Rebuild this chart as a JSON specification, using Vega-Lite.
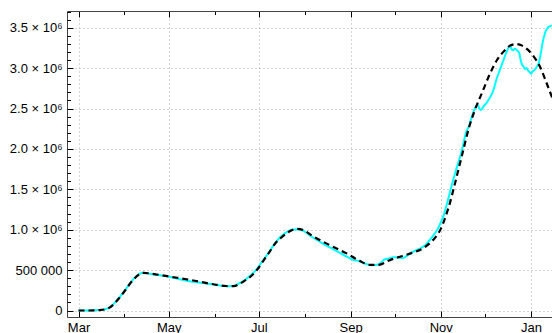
{
  "$schema": "https://vega.github.io/schema/vega-lite/v6.json",
  "width": 485,
  "height": 306,
  "autosize": {"type": "none"},
  "padding": {"left": 67, "top": 11, "right": 0, "bottom": 16},
  "background": "white",
  "config": {
    "view": {"stroke": null},
    "axis": {
      "labelFont": "Liberation Sans",
      "labelFontSize": 13,
      "labelColor": "#000000",
      "domainColor": "#444444",
      "domainWidth": 1,
      "tickColor": "#000000",
      "tickWidth": 1,
      "gridColor": "#a8a8a8",
      "gridDash": [1, 3],
      "gridWidth": 1,
      "labelOverlap": false,
      "labelFlush": false,
      "labelBound": false,
      "title": null
    }
  },
  "datasets": {
    "obs": [
      {"date": "2020-03-01", "value": 0},
      {"date": "2020-03-08", "value": 0},
      {"date": "2020-03-15", "value": 5000},
      {"date": "2020-03-19", "value": 15000},
      {"date": "2020-03-22", "value": 37000},
      {"date": "2020-03-25", "value": 85000},
      {"date": "2020-03-29", "value": 170000},
      {"date": "2020-04-02", "value": 265000},
      {"date": "2020-04-05", "value": 340000},
      {"date": "2020-04-08", "value": 405000},
      {"date": "2020-04-11", "value": 450000},
      {"date": "2020-04-14", "value": 466000},
      {"date": "2020-04-18", "value": 455000},
      {"date": "2020-04-25", "value": 435000},
      {"date": "2020-05-02", "value": 415000},
      {"date": "2020-05-10", "value": 380000},
      {"date": "2020-05-17", "value": 355000},
      {"date": "2020-05-24", "value": 340000},
      {"date": "2020-06-01", "value": 320000},
      {"date": "2020-06-09", "value": 300000},
      {"date": "2020-06-13", "value": 303000},
      {"date": "2020-06-17", "value": 330000},
      {"date": "2020-06-21", "value": 370000},
      {"date": "2020-06-25", "value": 430000},
      {"date": "2020-06-29", "value": 500000},
      {"date": "2020-07-03", "value": 600000},
      {"date": "2020-07-07", "value": 700000},
      {"date": "2020-07-11", "value": 810000},
      {"date": "2020-07-15", "value": 900000},
      {"date": "2020-07-19", "value": 960000},
      {"date": "2020-07-23", "value": 1000000},
      {"date": "2020-07-27", "value": 1005000},
      {"date": "2020-07-31", "value": 985000},
      {"date": "2020-08-06", "value": 910000},
      {"date": "2020-08-13", "value": 830000},
      {"date": "2020-08-20", "value": 760000},
      {"date": "2020-08-27", "value": 690000},
      {"date": "2020-09-03", "value": 625000},
      {"date": "2020-09-07", "value": 610000},
      {"date": "2020-09-11", "value": 580000},
      {"date": "2020-09-15", "value": 560000},
      {"date": "2020-09-19", "value": 565000},
      {"date": "2020-09-22", "value": 600000},
      {"date": "2020-09-24", "value": 633000},
      {"date": "2020-09-27", "value": 645000},
      {"date": "2020-09-30", "value": 658000},
      {"date": "2020-10-03", "value": 655000},
      {"date": "2020-10-06", "value": 648000},
      {"date": "2020-10-09", "value": 675000},
      {"date": "2020-10-13", "value": 725000},
      {"date": "2020-10-17", "value": 760000},
      {"date": "2020-10-21", "value": 800000},
      {"date": "2020-10-24", "value": 860000},
      {"date": "2020-10-27", "value": 930000},
      {"date": "2020-10-30", "value": 1010000},
      {"date": "2020-11-01", "value": 1090000},
      {"date": "2020-11-03", "value": 1180000},
      {"date": "2020-11-05", "value": 1310000},
      {"date": "2020-11-07", "value": 1450000},
      {"date": "2020-11-09", "value": 1590000},
      {"date": "2020-11-11", "value": 1720000},
      {"date": "2020-11-14", "value": 1900000},
      {"date": "2020-11-16", "value": 2040000},
      {"date": "2020-11-18", "value": 2200000},
      {"date": "2020-11-20", "value": 2280000},
      {"date": "2020-11-22", "value": 2400000},
      {"date": "2020-11-24", "value": 2500000},
      {"date": "2020-11-25", "value": 2530000},
      {"date": "2020-11-26", "value": 2545000},
      {"date": "2020-11-27", "value": 2500000},
      {"date": "2020-11-28", "value": 2480000},
      {"date": "2020-11-29", "value": 2500000},
      {"date": "2020-11-30", "value": 2530000},
      {"date": "2020-12-01", "value": 2550000},
      {"date": "2020-12-02", "value": 2570000},
      {"date": "2020-12-03", "value": 2600000},
      {"date": "2020-12-04", "value": 2630000},
      {"date": "2020-12-05", "value": 2660000},
      {"date": "2020-12-06", "value": 2700000},
      {"date": "2020-12-07", "value": 2750000},
      {"date": "2020-12-08", "value": 2820000},
      {"date": "2020-12-09", "value": 2880000},
      {"date": "2020-12-10", "value": 2930000},
      {"date": "2020-12-11", "value": 2980000},
      {"date": "2020-12-12", "value": 3030000},
      {"date": "2020-12-13", "value": 3080000},
      {"date": "2020-12-14", "value": 3130000},
      {"date": "2020-12-15", "value": 3180000},
      {"date": "2020-12-16", "value": 3220000},
      {"date": "2020-12-17", "value": 3260000},
      {"date": "2020-12-18", "value": 3270000},
      {"date": "2020-12-19", "value": 3230000},
      {"date": "2020-12-20", "value": 3220000},
      {"date": "2020-12-21", "value": 3240000},
      {"date": "2020-12-22", "value": 3230000},
      {"date": "2020-12-23", "value": 3210000},
      {"date": "2020-12-24", "value": 3190000},
      {"date": "2020-12-25", "value": 3100000},
      {"date": "2020-12-26", "value": 3040000},
      {"date": "2020-12-27", "value": 3020000},
      {"date": "2020-12-28", "value": 2990000},
      {"date": "2020-12-29", "value": 3000000},
      {"date": "2020-12-30", "value": 2970000},
      {"date": "2020-12-31", "value": 2950000},
      {"date": "2021-01-01", "value": 2930000},
      {"date": "2021-01-02", "value": 2960000},
      {"date": "2021-01-03", "value": 2970000},
      {"date": "2021-01-04", "value": 2990000},
      {"date": "2021-01-05", "value": 3020000},
      {"date": "2021-01-06", "value": 3050000},
      {"date": "2021-01-07", "value": 3120000},
      {"date": "2021-01-08", "value": 3220000},
      {"date": "2021-01-09", "value": 3330000},
      {"date": "2021-01-10", "value": 3400000},
      {"date": "2021-01-11", "value": 3460000},
      {"date": "2021-01-12", "value": 3490000},
      {"date": "2021-01-13", "value": 3510000},
      {"date": "2021-01-14", "value": 3520000},
      {"date": "2021-01-15", "value": 3530000}
    ],
    "fit": [
      {"date": "2020-03-01", "value": 0},
      {"date": "2020-03-08", "value": 0},
      {"date": "2020-03-15", "value": 5000},
      {"date": "2020-03-19", "value": 15000},
      {"date": "2020-03-22", "value": 35000},
      {"date": "2020-03-25", "value": 80000},
      {"date": "2020-03-29", "value": 165000},
      {"date": "2020-04-02", "value": 260000},
      {"date": "2020-04-05", "value": 337000},
      {"date": "2020-04-08", "value": 400000},
      {"date": "2020-04-11", "value": 447000},
      {"date": "2020-04-14", "value": 466000},
      {"date": "2020-04-18", "value": 458000},
      {"date": "2020-04-25", "value": 440000},
      {"date": "2020-05-02", "value": 418000},
      {"date": "2020-05-12", "value": 390000},
      {"date": "2020-05-22", "value": 356000},
      {"date": "2020-06-01", "value": 322000},
      {"date": "2020-06-09", "value": 303000},
      {"date": "2020-06-14", "value": 302000},
      {"date": "2020-06-18", "value": 330000},
      {"date": "2020-06-22", "value": 375000},
      {"date": "2020-06-26", "value": 430000},
      {"date": "2020-06-30", "value": 510000},
      {"date": "2020-07-04", "value": 615000},
      {"date": "2020-07-08", "value": 720000},
      {"date": "2020-07-12", "value": 830000},
      {"date": "2020-07-16", "value": 900000},
      {"date": "2020-07-20", "value": 960000},
      {"date": "2020-07-24", "value": 1000000},
      {"date": "2020-07-27", "value": 1011000},
      {"date": "2020-07-31", "value": 995000},
      {"date": "2020-08-06", "value": 925000},
      {"date": "2020-08-13", "value": 855000},
      {"date": "2020-08-20", "value": 790000},
      {"date": "2020-08-29", "value": 710000},
      {"date": "2020-09-07", "value": 615000},
      {"date": "2020-09-14", "value": 565000},
      {"date": "2020-09-20", "value": 565000},
      {"date": "2020-09-27", "value": 620000},
      {"date": "2020-10-06", "value": 675000},
      {"date": "2020-10-13", "value": 715000},
      {"date": "2020-10-20", "value": 770000},
      {"date": "2020-10-25", "value": 840000},
      {"date": "2020-10-29", "value": 920000},
      {"date": "2020-11-01", "value": 1010000},
      {"date": "2020-11-04", "value": 1150000},
      {"date": "2020-11-07", "value": 1320000},
      {"date": "2020-11-10", "value": 1530000},
      {"date": "2020-11-13", "value": 1750000},
      {"date": "2020-11-16", "value": 1970000},
      {"date": "2020-11-20", "value": 2260000},
      {"date": "2020-11-24", "value": 2480000},
      {"date": "2020-11-29", "value": 2700000},
      {"date": "2020-12-04", "value": 2920000},
      {"date": "2020-12-09", "value": 3100000},
      {"date": "2020-12-14", "value": 3215000},
      {"date": "2020-12-18", "value": 3280000},
      {"date": "2020-12-22", "value": 3298000},
      {"date": "2020-12-26", "value": 3278000},
      {"date": "2020-12-30", "value": 3225000},
      {"date": "2021-01-03", "value": 3140000},
      {"date": "2021-01-07", "value": 3020000},
      {"date": "2021-01-11", "value": 2840000},
      {"date": "2021-01-15", "value": 2650000},
      {"date": "2021-01-19", "value": 2450000}
    ]
  },
  "layer": [
    {
      "data": {"name": "fit"},
      "mark": {"type": "line", "opacity": 0},
      "encoding": {
        "x": {
          "field": "date", "type": "temporal",
          "scale": {"type": "utc", "domain": [{"year": 2020, "month": 2, "date": 22, "hours": 5, "minutes": 17, "utc": true}, {"year": 2021, "month": 1, "date": 15, "hours": 4, "minutes": 48, "utc": true}]},
          "axis": {"orient": "bottom", "tickCount": {"interval": "month", "step": 1}, "labels": false, "grid": false, "domain": false, "tickSize": -3.5}
        },
        "y": {"field": "value", "type": "quantitative", "scale": {"domain": [-80400, 3706700], "nice": false, "zero": false}, "axis": null}
      }
    },
    {
      "data": {"name": "fit"},
      "mark": {"type": "line", "opacity": 0},
      "encoding": {
        "x": {
          "field": "date", "type": "temporal",
          "axis": {"orient": "top", "tickCount": {"interval": "month", "step": 1}, "labels": false, "grid": false, "domain": false, "tickSize": -3.5}
        },
        "y": {"field": "value", "type": "quantitative", "axis": null}
      }
    },
    {
      "data": {"name": "obs"},
      "mark": {"type": "line", "color": "#00FFFF", "strokeWidth": 2, "clip": true, "interpolate": "monotone"},
      "encoding": {
        "x": {
          "field": "date", "type": "temporal",
          "axis": {
            "orient": "bottom",
            "tickCount": {"interval": "month", "step": 2},
            "format": "%b",
            "grid": true,
            "tickSize": -6,
            "labelPadding": 10
          }
        },
        "y": {
          "field": "value", "type": "quantitative",
          "axis": {
            "orient": "left",
            "values": [0, 500000, 1000000, 1500000, 2000000, 2500000, 3000000, 3500000],
            "labelExpr": "datum.value == 0 ? '0' : datum.value == 500000 ? '500 000' : format(datum.value / 1000000, '.1f') + ' × 10⁶'",
            "grid": true,
            "tickSize": -6,
            "labelPadding": 11
          }
        }
      }
    },
    {
      "data": {"name": "fit"},
      "mark": {"type": "line", "color": "#000000", "strokeWidth": 2.2, "strokeDash": [6, 4], "clip": true, "interpolate": "monotone"},
      "encoding": {
        "x": {
          "field": "date", "type": "temporal",
          "axis": {"orient": "top", "tickCount": {"interval": "month", "step": 2}, "labels": false, "grid": false, "tickSize": -6}
        },
        "y": {
          "field": "value", "type": "quantitative",
          "axis": {
            "orient": "left",
            "values": [0, 100000, 200000, 300000, 400000, 500000, 600000, 700000, 800000, 900000, 1000000, 1100000, 1200000, 1300000, 1400000, 1500000, 1600000, 1700000, 1800000, 1900000, 2000000, 2100000, 2200000, 2300000, 2400000, 2500000, 2600000, 2700000, 2800000, 2900000, 3000000, 3100000, 3200000, 3300000, 3400000, 3500000, 3600000, 3700000],
            "labels": false,
            "grid": false,
            "domain": false,
            "tickSize": -3.5
          }
        }
      }
    }
  ],
  "resolve": {"axis": {"x": "independent", "y": "independent"}}
}
